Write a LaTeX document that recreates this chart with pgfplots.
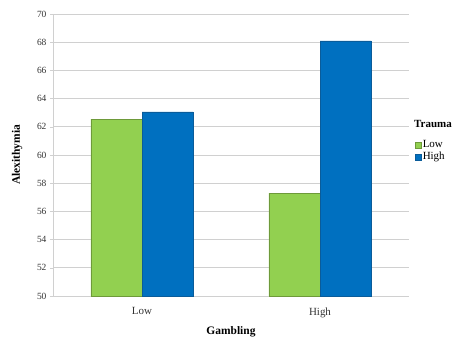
\documentclass[border=0pt]{standalone}
\usepackage{pgfplots}
\pgfplotsset{compat=1.18}
\usepackage{fontspec}
\setmainfont{Liberation Serif}
\definecolor{gbar}{HTML}{92D050}
\definecolor{gedge}{HTML}{6E9A3A}
\definecolor{bbar}{HTML}{0070C0}
\definecolor{bedge}{HTML}{0A5C9A}
\definecolor{gridc}{HTML}{D0D0D0}
\begin{document}
\begin{tikzpicture}
\path[use as bounding box] (-53bp,-43bp) rectangle (404bp,296bp);
\begin{axis}[
  scale only axis,
  width=356bp, height=282bp,
  xmin=-0.5, xmax=1.5,
  ymin=50, ymax=70,
  ytick={50,52,...,70},
  xtick={0,1},
  xticklabels={Low,High},
  extra x ticks={0.5},
  extra x tick labels={},
  extra x tick style={major tick length=4bp, tick style={gridc, line width=0.6pt}, grid=none},
  axis x line*=bottom,
  axis y line*=left,
  axis line style={gridc, line width=0.8pt},
  ymajorgrids,
  grid style={gridc, line width=0.7pt},
  major tick length=3bp,
  tick align=outside,
  xtick style={draw=none},
  ytick style={gridc, line width=0.6pt},
  yticklabel style={font=\fontsize{9.5}{11}\selectfont, text=black!80},
  xticklabel style={font=\fontsize{11}{13}\selectfont, text=black!80, yshift=-5bp},
  /pgf/number format/assume math mode=true,
  xlabel={\bfseries Gambling},
  ylabel={\bfseries Alexithymia},
  xlabel style={font=\fontsize{11.5}{13}\selectfont, at={(axis description cs:0.5,-0.128)}, anchor=center},
  ylabel style={font=\fontsize{11.5}{13}\selectfont, at={(axis description cs:-0.101,0.5)}, anchor=center},
  legend style={at={(1.017,0.557)}, anchor=north west, draw=none, fill=none,
    inner sep=0pt, row sep=0pt,
    font=\fontsize{11}{13}\selectfont,
    nodes={text height=7.5bp, text depth=2.5bp, inner sep=1bp}},
  legend cell align=left,
  legend image code/.code={\draw[#1] (0bp,-3bp) rectangle (6bp,3bp);},
  clip=false,
]
\addplot[ybar, bar width=0.287, bar shift=-0.1435, fill=gbar, draw=gedge, line width=0.5pt]
  coordinates {(0,62.55) (1,57.3)};
\addlegendentry{Low}
\addplot[ybar, bar width=0.287, bar shift=0.1435, fill=bbar, draw=bedge, line width=0.5pt]
  coordinates {(0,63.05) (1,68.1)};
\addlegendentry{High}
\node[anchor=base west, inner sep=0pt, font=\fontsize{11}{13}\selectfont\bfseries] at (rel axis cs:1.014,0.599) {Trauma};
\end{axis}
\end{tikzpicture}
\end{document}
